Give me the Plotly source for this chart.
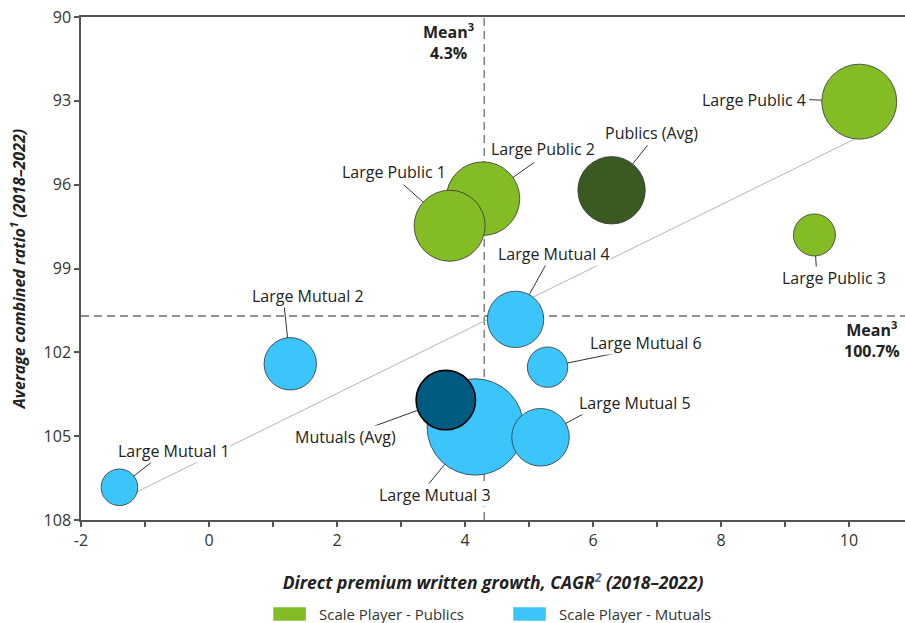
import math
import plotly.graph_objects as go

# ---------------- data ----------------
pub_names = ["Large Public 2", "Large Public 1", "Publics (Avg)", "Large Public 3", "Large Public 4"]
pub_growth = [4.28, 3.76, 6.29, 9.46, 10.16]
pub_ratio = [96.50, 97.47, 96.20, 97.80, 93.03]
pub_size = [36.8, 35.5, 33.7, 21.0, 37.5]

mut_names = ["Large Mutual 1", "Large Mutual 2", "Large Mutual 3", "Mutuals (Avg)",
             "Large Mutual 4", "Large Mutual 5", "Large Mutual 6"]
mut_growth = [-1.40, 1.27, 4.16, 3.70, 4.79, 5.18, 5.29]
mut_ratio = [106.83, 102.41, 104.67, 103.71, 100.82, 105.04, 102.53]
mut_size = [18.3, 26.2, 48.2, 29.7, 28.2, 28.8, 20.2]

mean_growth = 4.3
mean_ratio = 100.7
trend_x = [-1.4, 10.15]
trend_y = [107.3, 94.3]

x_ticks = [-2, 0, 2, 4, 6, 8, 10]
y_ticks = [90, 93, 96, 99, 102, 105, 108]

# ---------------- styling ----------------
FONT = "Open Sans"
GREEN, DGREEN = "#84BC26", "#3A5A22"
BLUE, DBLUE = "#3CC5FB", "#005B80"
TXT = "#222222"

pub_colors = [DGREEN if "Avg" in n else GREEN for n in pub_names]
mut_colors = [DBLUE if "Avg" in n else BLUE for n in mut_names]
mut_lw = [1.6 if "Avg" in n else 0.8 for n in mut_names]
mut_lc = ["#000000" if "Avg" in n else "#333333" for n in mut_names]

fig = go.Figure()
fig.add_trace(go.Scatter(x=trend_x, y=trend_y, mode="lines",
                         line=dict(color="#b5b5b5", width=1), showlegend=False, hoverinfo="skip"))
fig.add_trace(go.Scatter(x=pub_growth, y=pub_ratio, mode="markers", text=pub_names, showlegend=False,
                         marker=dict(size=pub_size, sizemode="diameter", sizeref=0.5, color=pub_colors,
                                     opacity=1, line=dict(color="#333333", width=0.8))))
fig.add_trace(go.Scatter(x=mut_growth, y=mut_ratio, mode="markers", text=mut_names, showlegend=False,
                         marker=dict(size=mut_size, sizemode="diameter", sizeref=0.5, color=mut_colors,
                                     opacity=1, line=dict(color=mut_lc, width=mut_lw))))

# label placement: (text dx, text dy, leader tail dx, leader tail dy) in screen pixels from bubble centre
label_pos = {
    "Large Public 1": (-56, -54, -46, -41),
    "Large Public 2": (60, -50, 51, -36),
    "Publics (Avg)": (40, -57, 36, -45),
    "Large Public 4": (-105, -2, -50, -2),
    "Large Public 3": (20, 43, 2, 35),
    "Large Mutual 4": (38, -65, 31, -56),
    "Large Mutual 2": (18, -68, -6, -57),
    "Large Mutual 6": (98, -24, 68, -14),
    "Large Mutual 5": (94, -34, 44, -24),
    "Large Mutual 3": (-40, 68, -49, 60),
    "Mutuals (Avg)": (-100, 37, -77, 28),
    "Large Mutual 1": (55, -36, 32, -25),
}

annotations = []
shapes = [
    dict(type="line", xref="x", yref="paper", x0=mean_growth, x1=mean_growth, y0=0, y1=1,
         line=dict(color="#6e6e6e", width=1.3, dash="8px,5px"), layer="below"),
    dict(type="line", xref="paper", yref="y", x0=0, x1=1, y0=mean_ratio, y1=mean_ratio,
         line=dict(color="#6e6e6e", width=1.3, dash="8px,5px"), layer="below"),
]
for names, xs, ys, ss in [(pub_names, pub_growth, pub_ratio, pub_size),
                          (mut_names, mut_growth, mut_ratio, mut_size)]:
    for n, x, y, s in zip(names, xs, ys, ss):
        tdx, tdy, adx, ady = label_pos[n]
        d = math.hypot(adx, ady)
        ex, ey = adx / d * s, ady / d * s  # point on bubble edge
        # pixel-sized leader line anchored at the bubble centre (y pixels point up)
        shapes.append(dict(type="line", xref="x", yref="y", xsizemode="pixel", ysizemode="pixel",
                           xanchor=x, yanchor=y, x0=adx, x1=ex, y0=-ady, y1=-ey,
                           line=dict(color="#333333", width=1)))
        annotations.append(dict(x=x, y=y, xref="x", yref="y", text=n, showarrow=False,
                                xshift=tdx, yshift=-tdy, bgcolor="white", borderpad=0,
                                font=dict(family=FONT, size=16, color=TXT)))

annotations.append(dict(x=mean_growth, y=y_ticks[0], xref="x", yref="y", xanchor="right", yanchor="top",
                        xshift=-8, yshift=0, showarrow=False, align="center",
                        text=f"<b>Mean<sup>3</sup><br>{mean_growth}%</b>",
                        font=dict(family=FONT, size=16, color=TXT)))
annotations.append(dict(x=1.0, y=mean_ratio, xref="paper", yref="y", xanchor="right", yanchor="top",
                        xshift=-3, yshift=1, showarrow=False, align="center",
                        text=f"<b>Mean<sup>3</sup><br>{mean_ratio}%</b>",
                        font=dict(family=FONT, size=16, color=TXT)))

# manual legend
legend_items = [("Scale Player - Publics", GREEN, 0.2334), ("Scale Player - Mutuals", BLUE, 0.5246)]
for label, col, x0 in legend_items:
    shapes.append(dict(type="rect", xref="paper", yref="paper", x0=x0, x1=x0 + 0.0395,
                       y0=-0.2002, y1=-0.1736, fillcolor=col, line=dict(width=0)))
    annotations.append(dict(x=x0 + 0.0534, y=-0.1869, xref="paper", yref="paper", xanchor="left",
                            yanchor="middle", showarrow=False, text=label,
                            font=dict(family=FONT, size=15, color="#333333")))

fig.update_layout(
    width=905, height=623,
    margin=dict(l=81, r=0, t=17, b=103),
    paper_bgcolor="white", plot_bgcolor="white",
    font=dict(family=FONT, size=16, color=TXT),
    showlegend=False,
    annotations=annotations, shapes=shapes,
    xaxis=dict(range=[-2, 10.875], tickvals=x_ticks, ticktext=[str(v) for v in x_ticks],
               showgrid=False, zeroline=False, showline=True, linecolor="#555555", linewidth=1.5,
               mirror=True, ticks="outside", ticklen=5, tickcolor="#555555", tickwidth=1.5,
               minor=dict(dtick=1, ticks="outside", ticklen=5, tickcolor="#555555", tickwidth=1.5),
               tickfont=dict(family=FONT, size=16, color="#333333"),
               title=dict(text="<b><i>Direct premium written growth, CAGR<span style='color:#4F6A9A'><sup>2</sup></span> (2018–2022)</i></b>",
                          font=dict(family=FONT, size=17.5, color=TXT), standoff=27)),
    yaxis=dict(range=[108, 90], tickvals=y_ticks, ticktext=[str(v) for v in y_ticks],
               showgrid=False, zeroline=False, showline=True, linecolor="#555555", linewidth=1.5,
               ticks="outside", ticklen=5, tickcolor="#555555", tickwidth=1.5,
               tickfont=dict(family=FONT, size=16, color="#333333"),
               title=dict(text="<b><i>Average combined ratio<sup>1</sup> (2018–2022)</i></b>",
                          font=dict(family=FONT, size=16, color=TXT), standoff=14)),
)

fig.write_html("out.html")
